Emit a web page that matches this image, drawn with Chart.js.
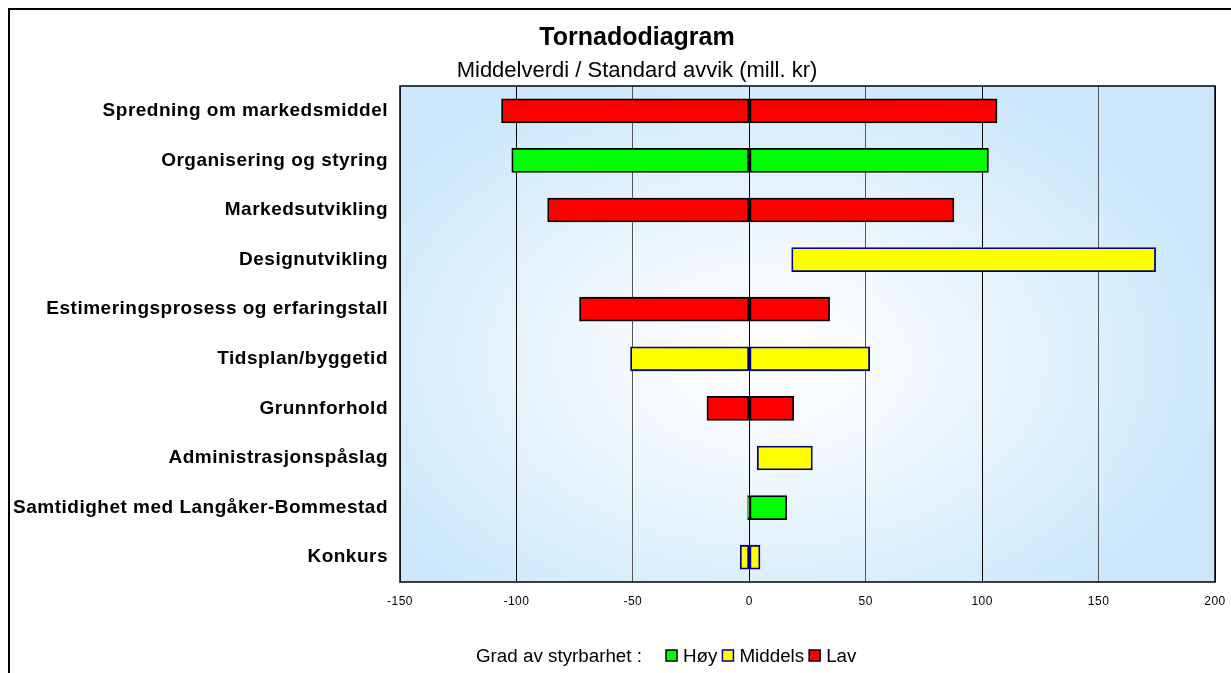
<!DOCTYPE html>
<html><head><meta charset="utf-8">
<script src="https://cdn.jsdelivr.net/npm/chart.js@4/dist/chart.umd.min.js"></script>
<style>html,body{margin:0;padding:0;background:#fff;overflow:hidden}#wrap{position:relative;width:1231px;height:673px}</style>
</head><body><div id="wrap"><canvas id="c" width="1231" height="673"></canvas></div>
<script>
const categories = ['Spredning om markedsmiddel','Organisering og styring','Markedsutvikling','Designutvikling','Estimeringsprosess og erfaringstall','Tidsplan/byggetid','Grunnforhold','Administrasjonspåslag','Samtidighet med Langåker-Bommestad','Konkurs'];
const lowValues  = [-106.4, -102.0, -86.6, 18.2, -72.9, -51.0, -18.2, 3.4, -0.7, -3.9];
const highValues = [106.4, 102.7, 87.9, 174.5, 34.5, 51.7, 19.1, 27.1, 16.1, 4.6];
const controlLevel = ['Lav','Høy','Lav','Middels','Lav','Middels','Lav','Middels','Høy','Middels'];
const legendLevels = ['Høy','Middels','Lav'];
const xTickValues = [-150, -100, -50, 0, 50, 100, 150, 200];
const titleText = 'Tornadodiagram';
const subtitleText = 'Middelverdi / Standard avvik (mill. kr)';
const legendLabel = 'Grad av styrbarhet :';

const fillFor = {'Høy':'#00FF00','Middels':'#FFFF00','Lav':'#FF0000'};
const edgeFor = {'Høy':'#000000','Middels':'#000080','Lav':'#000000'};

const negData = lowValues.map((lo,i)=> lo < 0 ? [lo, Math.min(highValues[i],0)] : null);
const posData = highValues.map((hi,i)=> hi > 0 ? [Math.max(lowValues[i],0), hi] : null);
const fills = controlLevel.map(l=>fillFor[l]);
const edges = controlLevel.map(l=>edgeFor[l]);

const FONT = '"Liberation Sans", Arial, sans-serif';

const decor = {
  id:'decor',
  beforeDraw(chart){
    const {ctx, chartArea:a} = chart;
    ctx.save();
    const cx = a.left + (a.right-a.left)*0.45, cy = a.top + (a.bottom-a.top)*0.55;
    const rx = (a.right-a.left)*0.56, ry = (a.bottom-a.top)*0.62;
    ctx.beginPath(); ctx.rect(a.left,a.top,a.right-a.left,a.bottom-a.top); ctx.clip();
    ctx.translate(cx,cy); ctx.scale(rx/ry,1);
    const g = ctx.createRadialGradient(0,0,0,0,0,ry);
    g.addColorStop(0,'#FFFFFF'); g.addColorStop(0.3,'#F4F9FE'); g.addColorStop(1,'#CCE8FA');
    ctx.fillStyle = g; ctx.fillRect(-3000, -3000, 6000, 6000);
    ctx.restore();
    ctx.letterSpacing = '0.5px';
  },
  beforeDatasetsDraw(chart){ chart.ctx.letterSpacing = '0px'; },
  afterDraw(chart){
    const {ctx, chartArea:a} = chart;
    ctx.save();
    ctx.letterSpacing = '0px';
    ctx.strokeStyle='#000'; ctx.lineWidth=1.5;
    ctx.strokeRect(a.left, a.top, a.right-a.left, a.bottom-a.top);
    ctx.lineWidth=2;
    ctx.beginPath(); ctx.moveTo(9,700); ctx.lineTo(9,9); ctx.lineTo(1300,9); ctx.stroke();
    ctx.fillStyle='#000'; ctx.textAlign='center'; ctx.textBaseline='alphabetic';
    ctx.font = 'bold 25px ' + FONT; ctx.fillText(titleText, 637, 45);
    ctx.font = '22px ' + FONT; ctx.fillText(subtitleText, 637, 77);
    ctx.font = '18.8px ' + FONT; ctx.textAlign='left';
    let x = 476; const y = 662;
    ctx.fillText(legendLabel, x, y);
    x = 666;
    legendLevels.forEach(l=>{
      ctx.fillStyle = fillFor[l]; ctx.fillRect(x, y-12, 11, 11);
      ctx.strokeStyle = edgeFor[l]; ctx.lineWidth=1.5; ctx.strokeRect(x, y-12, 11, 11);
      ctx.fillStyle='#000'; ctx.fillText(l, x+17, y);
      x += 17 + ctx.measureText(l).width + 5;
    });
    ctx.restore();
  }
};

new Chart(document.getElementById('c'), {
  type:'bar',
  data:{
    labels: categories,
    datasets:[
      {label:'neg', data:negData, backgroundColor:fills, borderColor:edges, borderWidth:1.8, borderSkipped:false, grouped:false, barThickness:24},
      {label:'pos', data:posData, backgroundColor:fills, borderColor:edges, borderWidth:1.8, borderSkipped:false, grouped:false, barThickness:24}
    ]
  },
  options:{
    indexAxis:'y', responsive:false, animation:false,
    layout:{padding:{left:0,right:16,top:86,bottom:0}},
    plugins:{legend:{display:false}, tooltip:{enabled:false}, title:{display:false}},
    scales:{
      x:{type:'linear', min:-150, max:200,
         afterBuildTicks(s){ s.ticks = xTickValues.map(v=>({value:v})); },
         afterFit(s){ s.height = 91; s.paddingLeft = 0; s.paddingRight = 0; },
         ticks:{font:{family:FONT,size:12}, color:'#000', padding:12},
         grid:{color:(c)=> (c.tick && c.tick.value % 100 === 0) ? '#000' : '#555', lineWidth:1, drawTicks:false},
         border:{display:false}},
      y:{afterFit(s){ s.width = 400; },
         ticks:{font:{family:FONT,size:19,weight:'bold'}, color:'#000', padding:12},
         grid:{display:false, drawTicks:false},
         border:{display:false}}
    }
  },
  plugins:[decor]
});
</script></body></html>
